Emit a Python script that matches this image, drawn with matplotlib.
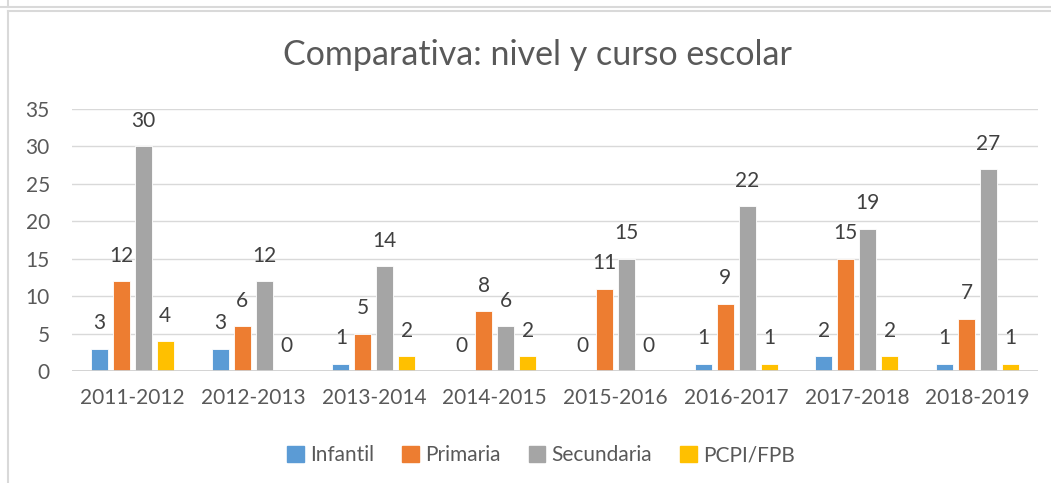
import numpy as np
import matplotlib.pyplot as plt
from matplotlib.patches import Rectangle
from matplotlib.lines import Line2D

cursos = ["2011-2012", "2012-2013", "2013-2014", "2014-2015",
          "2015-2016", "2016-2017", "2017-2018", "2018-2019"]
infantil = [3, 3, 1, 0, 0, 1, 2, 1]
primaria = [12, 6, 5, 8, 11, 9, 15, 7]
secundaria = [30, 12, 14, 6, 15, 22, 19, 27]
pcpi_fpb = [4, 0, 2, 2, 0, 1, 2, 1]

series = [("Infantil", infantil, "#5B9BD5"),
          ("Primaria", primaria, "#ED7D31"),
          ("Secundaria", secundaria, "#A5A5A5"),
          ("PCPI/FPB", pcpi_fpb, "#FFC000")]

plt.rcParams['font.family'] = ['Lato', 'DejaVu Sans']

fig = plt.figure(figsize=(10.51, 4.83), dpi=100)
W, H = 1051, 483
ax = fig.add_axes([72 / W, 1 - 371 / H, (1038 - 72) / W, (371 - 109) / H])

x = np.arange(len(cursos))
step = 0.182
width = 0.142
for i, (nombre, vals, color) in enumerate(series):
    pos = x + (i - 1.5) * step
    bars = ax.bar(pos, vals, width, color=color, label=nombre,
                  edgecolor="white", linewidth=0.6, zorder=3)
    for b, v in zip(bars, vals):
        ax.annotate(str(v), (b.get_x() + b.get_width() / 2, v),
                    xytext=(0, 11), textcoords="offset points",
                    ha="center", va="bottom", fontsize=15, color="#404040")

ax.set_xlim(-0.5, len(cursos) - 0.5)
ax.set_ylim(0, 35)
ax.set_yticks(range(0, 36, 5))
ax.set_xticks(x)
ax.set_xticklabels(cursos)
ax.grid(axis="y", color="#D9D9D9", linewidth=1.0, zorder=0)
ax.axhline(0, color="#D0D0D0", linewidth=2.0, zorder=4)
for s in ax.spines.values():
    s.set_visible(False)
ax.tick_params(axis="both", length=0, labelsize=15, colors="#595959")
ax.tick_params(axis="y", pad=16)
ax.tick_params(axis="x", pad=12)

fig.text(0.511, 1 - 55 / H, "Comparativa: nivel y curso escolar",
         ha="center", va="center", fontsize=24.5, color="#595959")

handles = [Rectangle((0, 0), 1, 1, color=c) for _, _, c in series]
fig.legend(handles, [n for n, _, _ in series], loc="center",
           bbox_to_anchor=(541 / W, 1 - 455 / H), ncol=4, frameon=False,
           fontsize=15, handlelength=0.8, handleheight=0.8,
           handletextpad=0.3, columnspacing=1.35, labelcolor="#595959")

# marco de la hoja
fc = "#D9D9D9"
fig.add_artist(Line2D([0, 1], [1 - 7 / H, 1 - 7 / H], color=fc, lw=1.5))
fig.add_artist(Line2D([8 / W, 1], [1 - 11 / H, 1 - 11 / H], color=fc, lw=1.5))
fig.add_artist(Line2D([8 / W, 8 / W], [0, 1 - 11 / H], color=fc, lw=1.5))
fig.add_artist(Line2D([8 / W, 8 / W], [1 - 7 / H, 1], color=fc, lw=1.5))

fig.savefig("out.png", dpi=100)
